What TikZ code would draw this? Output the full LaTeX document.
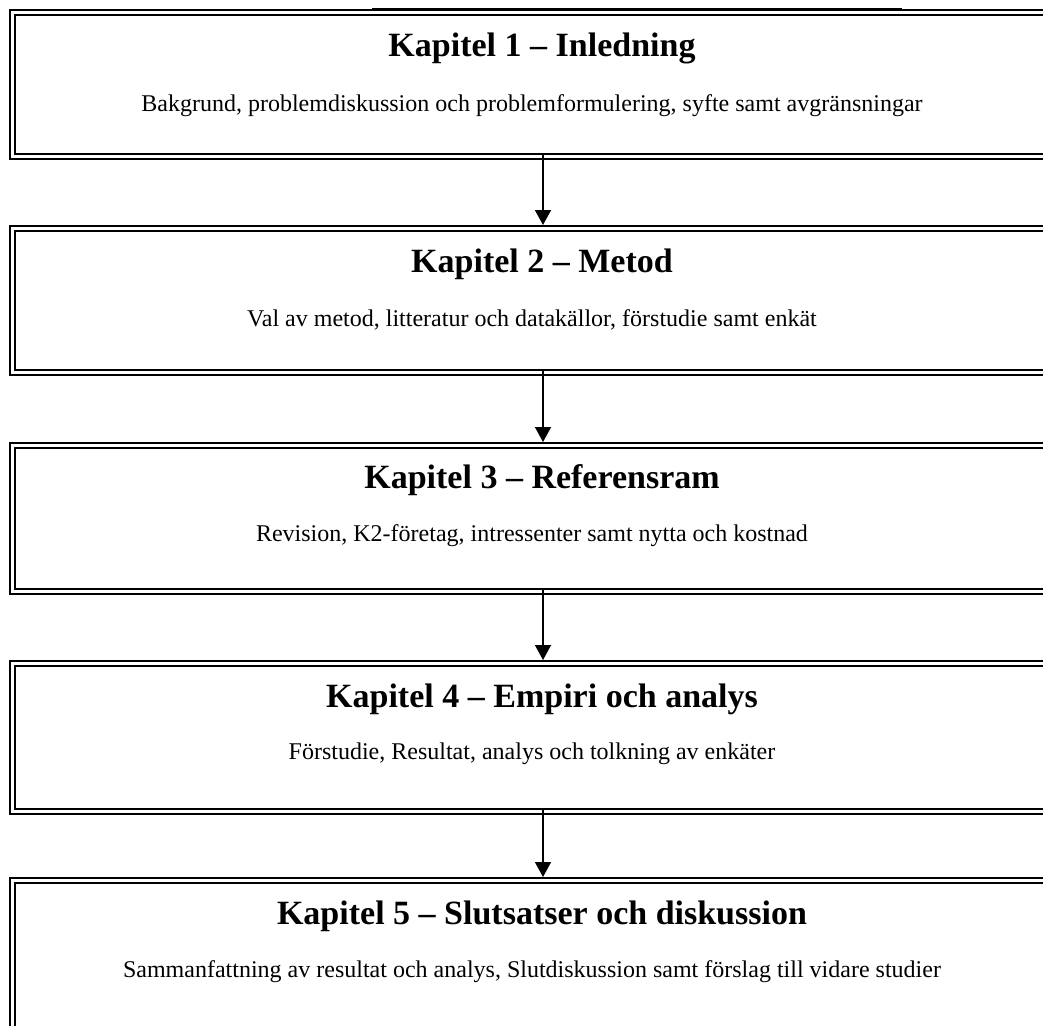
\documentclass[tikz,border=0pt]{standalone}
\usepackage{fontspec}
\setmainfont{Liberation Serif}
\usetikzlibrary{arrows.meta,calc}
\tikzset{
  chapbox/.style={draw=black,line width=2.4pt,anchor=north west,minimum width=1060pt,minimum height=139pt,inner sep=0pt,outer sep=0pt},
  outerline/.style={draw=black,line width=1.8pt},
  head/.style={font=\bfseries\fontsize{34}{40}\selectfont,inner sep=0pt},
  body/.style={font=\fontsize{24}{29}\selectfont,inner sep=0pt},
  flow/.style={draw=black,line width=1.5pt,-{Triangle[width=16pt,length=15pt]}}
}
\begin{document}
\begin{tikzpicture}[x=1pt,y=-1pt]
\useasboundingbox (0,0) rectangle (1043,1025);
\clip (0,0) rectangle (1043,1025);
\fill[white] (0,0) rectangle (1043,1025);
% boxes (inner thick line)
\foreach \n/\y/\h in {b1/15/139, b2/231/139, b3/448/141, b4/666/143, b5/883/200}{
  \node[chapbox,minimum height=\h pt] (\n) at (15,\y) {};
  \draw[outerline] ($(\n.north west)+(-5,-5)$) rectangle ($(\n.south east)+(5,5)$);
}
\draw[black,line width=1.8pt] (372,8.5) -- (902,8.5);
% texts
\node[head] (h1) at (542,48) {Kapitel 1 – Inledning};
\node[body] (t1) at (532,106) {Bakgrund, problemdiskussion och problemformulering, syfte samt avgränsningar};
\node[head] (h2) at (542,264) {Kapitel 2 – Metod};
\node[body] (t2) at (532,320) {Val av metod, litteratur och datakällor, förstudie samt enkät};
\node[head] (h3) at (542,480) {Kapitel 3 – Referensram};
\node[body] (t3) at (532,536) {Revision, K2-företag, intressenter samt nytta och kostnad};
\node[head] (h4) at (542,699) {Kapitel 4 – Empiri och analys};
\node[body] (t4) at (532,754) {Förstudie, Resultat, analys och tolkning av enkäter};
\node[head] (h5) at (542,916) {Kapitel 5 – Slutsatser och diskussion};
\node[body] (t5) at (532,972) {Sammanfattning av resultat och analys, Slutdiskussion samt förslag till vidare studier};
% arrows
\foreach \a/\b in {b1/b2, b2/b3, b3/b4, b4/b5}{
  \draw[flow] ($(\a.south west)+(528,0)$) -- ($(\b.north west)+(528,-6)$);
}
\end{tikzpicture}
\end{document}
